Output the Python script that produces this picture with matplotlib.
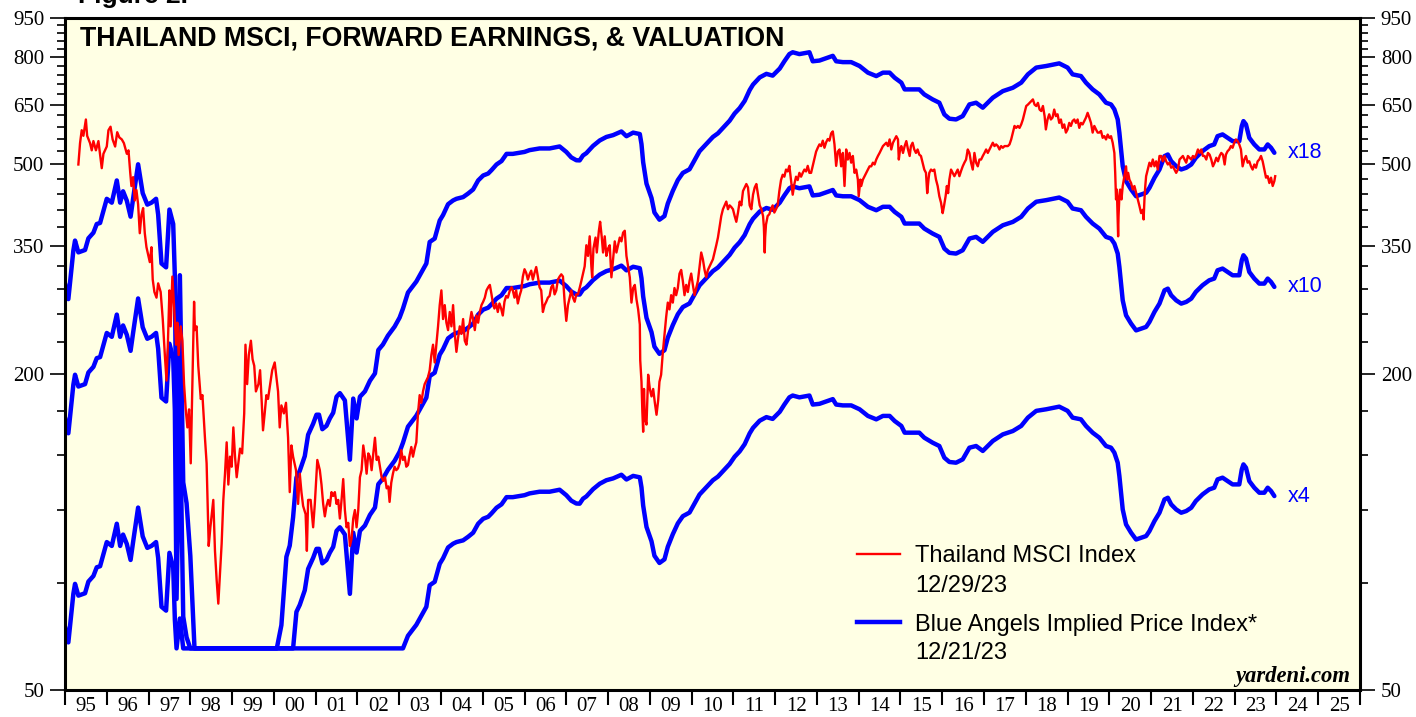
import numpy as np
import matplotlib
matplotlib.use('Agg')
import matplotlib.pyplot as plt
from matplotlib.ticker import FixedLocator, NullFormatter, FuncFormatter

# Thailand MSCI forward earnings, decimal years
eps_dates = [
    1995.00, 1995.08, 1995.20, 1995.24, 1995.32, 1995.48, 1995.56, 1995.68, 1995.76, 1995.84,
    1996.00, 1996.12, 1996.24, 1996.32, 1996.39, 1996.48, 1996.57, 1996.63, 1996.75, 1996.86,
    1996.97, 1997.07, 1997.18, 1997.23, 1997.31, 1997.42, 1997.50, 1997.59, 1997.63, 1997.67,
    1997.75, 1997.83, 1997.91, 1998.00, 1998.10, 1998.20, 1999.95, 2000.07, 2000.18, 2000.30,
    2000.38, 2000.46, 2000.54, 2000.62, 2000.74, 2000.82, 2000.94, 2001.02, 2001.08, 2001.16,
    2001.26, 2001.34, 2001.42, 2001.50, 2001.58, 2001.70, 2001.82, 2001.90, 2001.98, 2002.06,
    2002.18, 2002.30, 2002.42, 2002.50, 2002.61, 2002.73, 2002.89, 2003.01, 2003.09, 2003.21,
    2003.41, 2003.53, 2003.65, 2003.73, 2003.85, 2003.97, 2004.05, 2004.17, 2004.29, 2004.37,
    2004.53, 2004.65, 2004.77, 2004.89, 2005.01, 2005.13, 2005.21, 2005.33, 2005.45, 2005.57,
    2005.72, 2006.00, 2006.12, 2006.36, 2006.60, 2006.84, 2007.00, 2007.12, 2007.24, 2007.32,
    2007.40, 2007.48, 2007.64, 2007.80, 2007.96, 2008.12, 2008.32, 2008.44, 2008.60, 2008.76,
    2008.80, 2008.84, 2008.92, 2009.04, 2009.11, 2009.23, 2009.35, 2009.43, 2009.55, 2009.67,
    2009.79, 2009.95, 2010.07, 2010.19, 2010.35, 2010.51, 2010.63, 2010.75, 2010.91, 2011.03,
    2011.15, 2011.27, 2011.39, 2011.47, 2011.63, 2011.79, 2011.94, 2012.11, 2012.22, 2012.34,
    2012.42, 2012.58, 2012.82, 2012.90, 2013.06, 2013.26, 2013.38, 2013.46, 2013.62, 2013.82,
    2014.02, 2014.22, 2014.42, 2014.58, 2014.74, 2014.86, 2015.02, 2015.10, 2015.26, 2015.45,
    2015.57, 2015.77, 2015.93, 2016.05, 2016.17, 2016.33, 2016.49, 2016.65, 2016.81, 2016.97,
    2017.21, 2017.45, 2017.69, 2017.89, 2018.05, 2018.25, 2018.49, 2018.80, 2019.00, 2019.12,
    2019.32, 2019.44, 2019.60, 2019.76, 2019.92, 2020.04, 2020.12, 2020.20, 2020.24, 2020.28,
    2020.32, 2020.40, 2020.52, 2020.64, 2020.76, 2020.88, 2020.96, 2021.08, 2021.20, 2021.32,
    2021.40, 2021.48, 2021.60, 2021.72, 2021.84, 2021.96, 2022.07, 2022.23, 2022.39, 2022.51,
    2022.59, 2022.71, 2022.83, 2022.95, 2023.11, 2023.17, 2023.21, 2023.27, 2023.35, 2023.47,
    2023.59, 2023.71, 2023.79, 2023.87, 2023.95,
]
eps_values = [
    16.5, 15.4, 19.05, 19.9, 18.9, 19.1, 20.1, 20.6, 21.4, 21.5,
    23.9, 23.5, 25.9, 23.5, 24.7, 23.7, 22.1, 23.9, 27.8, 24.5,
    23.3, 23.5, 23.9, 22.3, 18.0, 17.7, 22.8, 21.4, 17.0, 7.45,
    17.1, 6.9, 6.3, 5.0, 3.2, 2.5, 2.5, 3.33, 3.69, 4.98,
    5.23, 5.92, 7.04, 7.26, 7.74, 8.50, 8.92, 9.28, 9.28, 8.71,
    8.84, 9.13, 9.36, 10.04, 10.2, 9.88, 7.62, 9.96, 9.13, 10.04,
    10.28, 10.77, 11.12, 12.32, 12.62, 13.12, 13.65, 14.2, 14.77, 15.85,
    16.63, 17.3, 18.0, 19.78, 20.08, 21.73, 22.26, 23.34, 23.73, 23.9,
    24.08, 24.46, 24.9, 25.9, 26.47, 26.7, 27.1, 27.78, 28.2, 29.1,
    29.1, 29.35, 29.58, 29.8, 29.8, 30.06, 29.35, 28.65, 28.3, 28.28,
    28.9, 29.19, 30.13, 30.86, 31.34, 31.59, 32.1, 31.44, 31.94, 31.74,
    30.37, 28.06, 25.54, 23.98, 22.51, 21.81, 22.16, 23.41, 24.74, 25.94,
    26.77, 27.2, 28.3, 29.44, 30.38, 31.34, 31.84, 32.6, 33.65, 34.74,
    35.56, 36.7, 38.49, 39.42, 40.68, 41.32, 41.0, 42.3, 43.66, 45.06,
    45.42, 45.06, 45.42, 43.66, 43.8, 44.36, 44.71, 43.66, 43.5, 43.5,
    42.77, 41.54, 40.92, 41.54, 41.54, 40.63, 39.76, 38.6, 38.6, 38.6,
    37.76, 36.94, 36.41, 34.59, 33.95, 33.84, 34.34, 36.14, 36.41, 35.63,
    37.22, 38.31, 38.88, 39.76, 41.23, 42.47, 42.77, 43.26, 42.47, 41.23,
    40.92, 39.76, 38.6, 37.76, 36.41, 36.14, 35.36, 33.84, 31.92, 29.67,
    27.57, 25.82, 24.9, 24.17, 24.36, 24.54, 25.08, 26.21, 27.18, 28.81,
    29.02, 28.19, 27.57, 27.18, 27.38, 27.78, 28.61, 29.45, 30.1, 30.33,
    31.45, 31.69, 31.22, 30.77, 30.77, 32.86, 33.59, 33.11, 31.22, 30.33,
    29.67, 29.67, 30.33, 29.89, 29.24,
]

# Thailand MSCI index
msci_dates = [
    1995.32, 1995.36, 1995.40, 1995.44, 1995.50, 1995.53, 1995.60, 1995.64, 1995.68, 1995.74,
    1995.80, 1995.88, 1995.92, 1996.00, 1996.04, 1996.09, 1996.14, 1996.20, 1996.25, 1996.30,
    1996.36, 1996.41, 1996.48, 1996.52, 1996.56, 1996.59, 1996.63, 1996.67, 1996.71, 1996.75,
    1996.79, 1996.83, 1996.87, 1996.91, 1996.95, 1996.99, 1997.03, 1997.07, 1997.10, 1997.14,
    1997.19, 1997.23, 1997.29, 1997.34, 1997.39, 1997.43, 1997.46, 1997.50, 1997.53, 1997.57,
    1997.61, 1997.66, 1997.69, 1997.72, 1997.77, 1997.81, 1997.85, 1997.89, 1997.93, 1997.97,
    1998.01, 1998.05, 1998.09, 1998.11, 1998.15, 1998.19, 1998.25, 1998.29, 1998.35, 1998.39,
    1998.44, 1998.48, 1998.55, 1998.59, 1998.63, 1998.67, 1998.71, 1998.75, 1998.79, 1998.83,
    1998.87, 1998.91, 1998.95, 1998.99, 1999.03, 1999.07, 1999.11, 1999.15, 1999.19, 1999.24,
    1999.29, 1999.32, 1999.36, 1999.40, 1999.45, 1999.49, 1999.53, 1999.57, 1999.63, 1999.67,
    1999.71, 1999.74, 1999.78, 1999.82, 1999.86, 1999.90, 1999.96, 2000.02, 2000.06, 2000.10,
    2000.14, 2000.18, 2000.24, 2000.29, 2000.34, 2000.38, 2000.42, 2000.46, 2000.53, 2000.58,
    2000.62, 2000.66, 2000.70, 2000.76, 2000.79, 2000.82, 2000.88, 2000.94, 2000.98, 2001.04,
    # 2001-2007
    2001.10, 2001.14, 2001.18, 2001.22, 2001.26, 2001.30, 2001.34, 2001.38, 2001.42, 2001.46,
    2001.50, 2001.54, 2001.58, 2001.62, 2001.66, 2001.70, 2001.74, 2001.78, 2001.82, 2001.86,
    2001.90, 2001.94, 2001.98, 2002.02, 2002.06, 2002.10, 2002.14, 2002.18, 2002.22, 2002.26,
    2002.30, 2002.34, 2002.38, 2002.42, 2002.46, 2002.50, 2002.54, 2002.58, 2002.62, 2002.66,
    2002.70, 2002.74, 2002.77, 2002.81, 2002.85, 2002.89, 2002.93, 2002.97, 2003.01, 2003.05,
    2003.09, 2003.13, 2003.17, 2003.21, 2003.25, 2003.29, 2003.33, 2003.37, 2003.41, 2003.45,
    2003.49, 2003.53, 2003.57, 2003.61, 2003.65, 2003.69, 2003.73, 2003.77, 2003.81, 2003.85,
    2003.89, 2003.93, 2003.97, 2004.01, 2004.05, 2004.09, 2004.13, 2004.17, 2004.21, 2004.25,
    2004.29, 2004.33, 2004.37, 2004.41, 2004.45, 2004.49, 2004.53, 2004.57, 2004.61, 2004.65,
    2004.69, 2004.73, 2004.77, 2004.81, 2004.85, 2004.89, 2004.93, 2004.97, 2005.01, 2005.05,
    2005.09, 2005.13, 2005.17, 2005.21, 2005.25, 2005.28, 2005.32, 2005.36, 2005.40, 2005.44,
    2005.48, 2005.52, 2005.56, 2005.60, 2005.65, 2005.69, 2005.72, 2005.76, 2005.80, 2005.84,
    2005.88, 2005.92, 2005.96, 2006.00, 2006.04, 2006.08, 2006.12, 2006.16, 2006.20, 2006.24,
    2006.28, 2006.32, 2006.36, 2006.40, 2006.44, 2006.48, 2006.52, 2006.56, 2006.60, 2006.64,
    2006.68, 2006.72, 2006.76, 2006.80, 2006.84, 2006.88, 2006.92, 2006.96, 2007.00, 2007.04,
    2007.08, 2007.12, 2007.16, 2007.20, 2007.24, 2007.28,
    # 2007-2013
    2007.32, 2007.36, 2007.40, 2007.44, 2007.48, 2007.52, 2007.56, 2007.60, 2007.62, 2007.65,
    2007.70, 2007.73, 2007.78, 2007.81, 2007.85, 2007.88, 2007.92, 2007.96, 2008.00, 2008.04,
    2008.08, 2008.12, 2008.16, 2008.20, 2008.24, 2008.28, 2008.32, 2008.36, 2008.40, 2008.44,
    2008.48, 2008.52, 2008.56, 2008.60, 2008.64, 2008.68, 2008.72, 2008.76, 2008.77, 2008.80,
    2008.82, 2008.84, 2008.86, 2008.88, 2008.92, 2008.96, 2009.00, 2009.04, 2009.08, 2009.12,
    2009.16, 2009.20, 2009.23, 2009.27, 2009.31, 2009.35, 2009.39, 2009.43, 2009.47, 2009.51,
    2009.55, 2009.59, 2009.63, 2009.67, 2009.71, 2009.75, 2009.79, 2009.83, 2009.87, 2009.91,
    2009.95, 2009.99, 2010.03, 2010.07, 2010.11, 2010.15, 2010.19, 2010.23, 2010.27, 2010.31,
    2010.35, 2010.39, 2010.43, 2010.47, 2010.51, 2010.55, 2010.59, 2010.63, 2010.67, 2010.71,
    2010.75, 2010.79, 2010.83, 2010.87, 2010.91, 2010.95, 2010.99, 2011.03, 2011.07, 2011.11,
    2011.15, 2011.19, 2011.23, 2011.27, 2011.31, 2011.35, 2011.39, 2011.43, 2011.47, 2011.51,
    2011.55, 2011.59, 2011.63, 2011.67, 2011.71, 2011.73, 2011.75, 2011.76, 2011.78, 2011.82,
    2011.86, 2011.90, 2011.94, 2011.98, 2012.02, 2012.06, 2012.10, 2012.14, 2012.18, 2012.22,
    2012.26, 2012.30, 2012.34, 2012.38, 2012.42, 2012.46, 2012.50, 2012.54, 2012.58, 2012.62,
    2012.66, 2012.70, 2012.74, 2012.78, 2012.82, 2012.86, 2012.90, 2012.94, 2012.98, 2013.02,
    2013.06, 2013.10, 2013.14, 2013.18, 2013.22, 2013.26, 2013.30, 2013.34, 2013.38, 2013.42,
    2013.46, 2013.50,
    # 2013-2019
    2013.54, 2013.58, 2013.62, 2013.66, 2013.70, 2013.74, 2013.78, 2013.82, 2013.86, 2013.90,
    2013.94, 2013.98, 2014.00, 2014.04, 2014.06, 2014.10, 2014.14, 2014.18, 2014.22, 2014.26,
    2014.30, 2014.34, 2014.38, 2014.42, 2014.46, 2014.50, 2014.54, 2014.58, 2014.62, 2014.66,
    2014.70, 2014.74, 2014.78, 2014.82, 2014.86, 2014.90, 2014.94, 2014.96, 2014.99, 2015.02,
    2015.06, 2015.10, 2015.14, 2015.18, 2015.22, 2015.25, 2015.29, 2015.33, 2015.37, 2015.41,
    2015.45, 2015.49, 2015.53, 2015.57, 2015.61, 2015.64, 2015.67, 2015.69, 2015.73, 2015.77,
    2015.81, 2015.85, 2015.89, 2015.93, 2015.97, 2016.01, 2016.04, 2016.08, 2016.11, 2016.14,
    2016.17, 2016.21, 2016.25, 2016.29, 2016.33, 2016.37, 2016.41, 2016.45, 2016.49, 2016.53,
    2016.57, 2016.61, 2016.65, 2016.69, 2016.73, 2016.77, 2016.81, 2016.85, 2016.89, 2016.93,
    2016.97, 2017.01, 2017.05, 2017.09, 2017.13, 2017.17, 2017.21, 2017.25, 2017.29, 2017.33,
    2017.37, 2017.41, 2017.45, 2017.49, 2017.53, 2017.57, 2017.61, 2017.65, 2017.69, 2017.73,
    2017.77, 2017.81, 2017.85, 2017.89, 2017.93, 2017.97, 2018.01, 2018.05, 2018.09, 2018.13,
    2018.17, 2018.21, 2018.25, 2018.29, 2018.33, 2018.37, 2018.41, 2018.45, 2018.48, 2018.52,
    2018.56, 2018.60, 2018.64, 2018.68, 2018.72, 2018.76, 2018.80, 2018.84, 2018.88, 2018.92,
    2018.96, 2019.00, 2019.04, 2019.08, 2019.12, 2019.16, 2019.20, 2019.24, 2019.28, 2019.32,
    2019.36, 2019.40, 2019.44, 2019.48, 2019.52, 2019.56, 2019.60, 2019.64, 2019.68, 2019.72,
    # 2019-2023
    2019.76, 2019.80, 2019.84, 2019.88, 2019.92, 2019.96, 2020.00, 2020.04, 2020.08, 2020.12,
    2020.14, 2020.16, 2020.18, 2020.21, 2020.22, 2020.24, 2020.26, 2020.29, 2020.32, 2020.36,
    2020.40, 2020.42, 2020.45, 2020.48, 2020.52, 2020.56, 2020.60, 2020.64, 2020.68, 2020.72,
    2020.76, 2020.80, 2020.82, 2020.84, 2020.86, 2020.88, 2020.92, 2020.96, 2021.00, 2021.04,
    2021.08, 2021.12, 2021.16, 2021.20, 2021.24, 2021.28, 2021.32, 2021.36, 2021.40, 2021.44,
    2021.48, 2021.52, 2021.56, 2021.60, 2021.64, 2021.68, 2021.72, 2021.76, 2021.80, 2021.84,
    2021.88, 2021.92, 2021.96, 2022.00, 2022.04, 2022.08, 2022.12, 2022.16, 2022.20, 2022.24,
    2022.28, 2022.32, 2022.36, 2022.40, 2022.44, 2022.48, 2022.52, 2022.56, 2022.60, 2022.64,
    2022.68, 2022.72, 2022.76, 2022.79, 2022.83, 2022.87, 2022.91, 2022.95, 2022.99, 2023.03,
    2023.07, 2023.11, 2023.15, 2023.19, 2023.23, 2023.27, 2023.31, 2023.35, 2023.39, 2023.43,
    2023.47, 2023.51, 2023.55, 2023.59, 2023.63, 2023.67, 2023.71, 2023.75, 2023.79, 2023.83,
    2023.87, 2023.91, 2023.95, 2023.97,
]
msci_values = [
    500, 549, 581, 567, 609, 567, 549, 532, 554, 532,
    554, 492, 524, 541, 581, 590, 558, 541, 576, 563,
    558, 549, 524, 532, 484, 455, 473, 427, 447, 420,
    370, 401, 413, 370, 348, 337, 326, 348, 302, 286,
    279, 297, 286, 254, 217, 194, 224, 288, 246, 306,
    270, 227, 250, 217, 246, 231, 191, 171, 158, 171,
    135, 191, 274, 242, 246, 207, 179, 182, 151, 135,
    94, 102, 115, 92, 81, 73, 83, 95, 115, 129,
    148, 123, 139, 133, 158, 139, 127, 135, 144, 141,
    168, 227, 191, 217, 231, 213, 207, 185, 191, 203,
    176, 156, 168, 182, 179, 188, 203, 210, 197, 185,
    158, 174, 168, 176, 151, 119, 146, 139, 131, 113,
    129, 119, 112, 108, 92, 115, 115, 102, 113, 137,
    # 2001-2007
    131, 123, 113, 107, 112, 115, 112, 119, 117, 119,
    113, 115, 106, 115, 126, 110, 102, 104, 94, 97,
    106, 110, 102, 110, 127, 131, 146, 139, 129, 141,
    139, 131, 141, 151, 137, 139, 133, 127, 125, 127,
    121, 122, 114, 124, 129, 133, 131, 132, 135, 143,
    137, 139, 133, 134, 140, 145, 139, 144, 148, 168,
    182, 176, 185, 191, 194, 197, 203, 217, 227, 210,
    227, 246, 270, 288, 254, 270, 250, 242, 262, 246,
    270, 238, 220, 234, 246, 238, 254, 231, 227, 242,
    250, 262, 254, 242, 258, 250, 262, 270, 274, 279,
    288, 292, 295, 283, 270, 266, 272, 262, 272, 266,
    258, 274, 281, 279, 288, 292, 288, 279, 288, 272,
    281, 288, 306, 316, 311, 302, 309, 314, 302, 311,
    319, 306, 292, 288, 262, 270, 274, 279, 281, 292,
    295, 283, 288, 302, 306, 309, 306, 274, 252, 270,
    279, 288, 279, 274, 283, 283,
    # 2007-2013
    291, 300, 310, 320, 351, 335, 365, 320, 305, 346,
    363, 340, 374, 389, 363, 340, 365, 335, 346, 351,
    305, 330, 357, 340, 351, 363, 357, 371, 374, 335,
    320, 305, 273, 291, 295, 277, 265, 248, 212, 193,
    170, 155, 187, 165, 160, 199, 187, 181, 187, 176,
    167, 178, 193, 199, 219, 237, 256, 273, 265, 282,
    273, 291, 282, 291, 310, 315, 300, 282, 295, 286,
    300, 310, 295, 282, 291, 300, 320, 340, 330, 315,
    305, 315, 320, 325, 330, 340, 351, 363, 380, 399,
    411, 418, 425, 411, 418, 415, 411, 399, 389, 405,
    425, 418, 445, 452, 459, 452, 418, 411, 438, 452,
    459, 438, 418, 411, 399, 380, 340, 363, 384, 399,
    402, 411, 418, 405, 411, 418, 445, 467, 478, 474,
    489, 485, 497, 467, 438, 459, 474, 467, 482, 474,
    482, 489, 485, 497, 482, 482, 497, 513, 529, 538,
    546, 542, 555, 538, 551, 559, 555, 573, 578, 546,
    497, 529,
    # 2013-2019
    534, 496, 526, 455, 534, 511, 526, 504, 519, 482,
    489, 468, 435, 468, 455, 468, 475, 482, 489, 496,
    496, 504, 500, 511, 519, 526, 534, 542, 546, 550,
    542, 558, 534, 550, 558, 566, 558, 511, 534, 542,
    526, 542, 554, 534, 519, 542, 550, 534, 526, 534,
    522, 519, 504, 489, 482, 441, 468, 482, 489, 486,
    489, 468, 455, 435, 423, 404, 416, 435, 455, 441,
    468, 489, 482, 475, 482, 489, 475, 486, 496, 504,
    511, 534, 526, 504, 489, 526, 504, 496, 511, 511,
    519, 526, 534, 526, 534, 542, 550, 542, 546, 542,
    534, 542, 538, 542, 542, 542, 546, 558, 575, 592,
    587, 592, 587, 596, 609, 627, 646, 650, 655, 660,
    665, 650, 646, 655, 636, 632, 646, 618, 583, 609,
    623, 609, 614, 636, 618, 623, 600, 609, 587, 596,
    575, 583, 600, 592, 605, 609, 600, 609, 587, 600,
    596, 605, 614, 627, 614, 600, 575, 592, 583, 575,
    # 2019-2023
    575, 579, 562, 566, 558, 570, 562, 566, 550, 526,
    482, 429, 448, 365, 399, 435, 448, 429, 455, 475,
    496, 468, 482, 468, 461, 448, 455, 442, 429, 417,
    404, 410, 393, 429, 455, 475, 489, 504, 496, 511,
    496, 507, 489, 519, 519, 507, 519, 507, 500, 504,
    493, 496, 489, 482, 489, 511, 515, 519, 511, 504,
    519, 515, 511, 519, 515, 522, 534, 526, 534, 519,
    519, 511, 526, 522, 511, 496, 504, 515, 507, 519,
    526, 522, 500, 522, 530, 534, 542, 538, 550, 558,
    554, 546, 534, 496, 511, 519, 504, 507, 496, 489,
    500, 493, 507, 511, 519, 507, 489, 472, 475, 461,
    472, 455, 465, 475,
]

multiples = [18, 10, 4]
multiple_labels = ['x18', 'x10', 'x4']
floor_value = 60  # implied index is cut off here when earnings collapse

y_major = [50, 200, 350, 500, 650, 800, 950]
y_minor = [v for v in range(50, 951, 30) if v not in y_major]
years = list(range(1995, 2027))

RED = '#FF0000'
BLUE = '#0000FF'
serif = 'Liberation Serif'
sans = 'Liberation Sans'

W, H = 1416, 717
fig = plt.figure(figsize=(W / 100, H / 100), dpi=100)
ax = fig.add_axes([65 / W, (H - 690) / H, 1295 / W, 672 / H])
ax.set_facecolor('#FFFFE4')

eps = np.array(eps_values)
for m in multiples:
    ax.plot(eps_dates, np.maximum(eps * m, floor_value), color=BLUE, lw=3.2,
            solid_joinstyle='round', solid_capstyle='round')
ax.plot(msci_dates, msci_values, color=RED, lw=1.7)

ax.set_yscale('log')
ax.set_ylim(50, 950)
ax.set_xlim(1995, 2026)

ax.yaxis.set_major_locator(FixedLocator(y_major))
ax.yaxis.set_minor_locator(FixedLocator(y_minor))
ax.yaxis.set_major_formatter(FuncFormatter(lambda v, p: f'{int(round(v))}'))
ax.yaxis.set_minor_formatter(NullFormatter())
ax.tick_params(axis='y', which='major', direction='out', length=11, width=1.2,
               left=True, right=True, labelleft=True, labelright=True, pad=4,
               labelsize=15)
ax.tick_params(axis='y', which='minor', direction='out', length=5.5, width=1.2,
               left=True, right=True)

ax.xaxis.set_major_locator(FixedLocator(years))
ax.xaxis.set_major_formatter(NullFormatter())
ax.xaxis.set_minor_locator(FixedLocator([y + 0.5 for y in years[:-1]]))
ax.xaxis.set_minor_formatter(FuncFormatter(lambda v, p: f'{int(v) % 100:02d}'))
ax.tick_params(axis='x', which='major', direction='out', length=11, width=1.5)
ax.tick_params(axis='x', which='minor', length=0, pad=5, labelsize=15)

for lab in ax.get_xticklabels(minor=True) + ax.get_yticklabels():
    lab.set_fontfamily(serif)
for lab in ax.yaxis.get_ticklabels(which='major'):
    lab.set_fontfamily(serif)

for s in ax.spines.values():
    s.set_linewidth(2.2)
    s.set_color('black')

# title inside the plot
ax.text(15 / 1295, 1 - 21 / 672, 'THAILAND MSCI, FORWARD EARNINGS, & VALUATION',
        transform=ax.transAxes, fontsize=19.3, fontweight='bold', family=sans,
        va='center', ha='left')
fig.text(78 / W, 1 - 3 / H, 'Figure 2.', fontsize=19, fontweight='bold',
         family=sans, va='baseline', ha='left')

# multiple labels at the end of each line
for m, lab in zip(multiples, multiple_labels):
    ax.text(2024.28, max(eps_values[-1] * m, floor_value), lab, color=BLUE,
            fontsize=15.5, family=sans, va='center', ha='left')

# legend
ax.plot([0.6116, 0.6448], [0.2024, 0.2024], transform=ax.transAxes, color=RED, lw=1.7)
ax.plot([0.6116, 0.6448], [0.1012, 0.1012], transform=ax.transAxes, color=BLUE, lw=3.2)
lx = 0.6564
ax.text(lx, 0.2000, 'Thailand MSCI Index', transform=ax.transAxes, fontsize=17,
        family=sans, va='center', ha='left')
ax.text(lx, 0.1555, '12/29/23', transform=ax.transAxes, fontsize=17,
        family=sans, va='center', ha='left')
ax.text(lx, 0.0960, 'Blue Angels Implied Price Index*', transform=ax.transAxes,
        fontsize=17, family=sans, va='center', ha='left')
ax.text(lx, 0.0555, '12/21/23', transform=ax.transAxes, fontsize=17,
        family=sans, va='center', ha='left')

ax.text(0.9925, 0.0208, 'yardeni.com', transform=ax.transAxes, fontsize=16.3,
        family=serif, fontweight='bold', style='italic', ha='right', va='center')

fig.savefig('out.png', dpi=100, facecolor='white')
